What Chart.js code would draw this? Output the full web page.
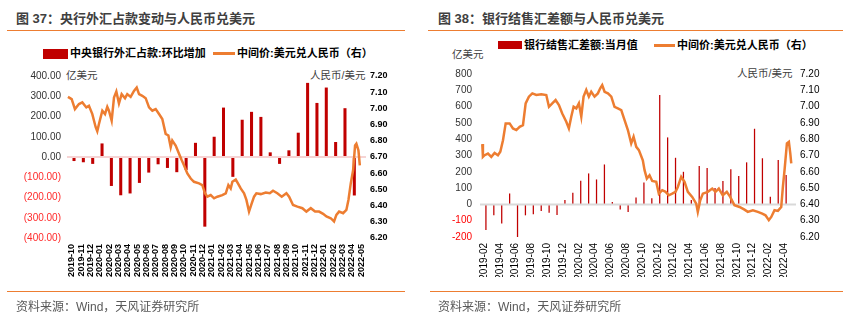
<!DOCTYPE html>
<html>
<head>
<meta charset="utf-8">
<script src="https://cdn.jsdelivr.net/npm/chart.js@4.4.1/dist/chart.umd.min.js"></script>
<style>
body { margin:0; width:859px; height:326px; background:#fff; position:relative; overflow:hidden;
       font-family:"Liberation Sans","Noto Sans CJK SC",sans-serif; }
.t { position:absolute; white-space:nowrap; }
.title { font-size:13px; font-weight:bold; color:#404040; line-height:15px; }
.src { font-size:12px; color:#595959; line-height:16px; }
.leg { font-size:11px; font-weight:bold; color:#000; line-height:12px; }
.unit { font-size:10.5px; color:#404040; line-height:13px; }
.rule { position:absolute; height:1px; background:#ED7D31; }
.box { position:absolute; background:#C00000; }
.ln { position:absolute; height:3px; background:#ED7D31; }
canvas { position:absolute; top:0; }
</style>
</head>
<body>
<div class="t title" style="left:16px;top:11px">图 37：央行外汇占款变动与人民币兑美元</div>
<div class="t title" style="left:438px;top:11px">图 38：银行结售汇差额与人民币兑美元</div>
<div class="rule" style="left:7px;top:30px;width:398px"></div>
<div class="rule" style="left:428px;top:30px;width:415px"></div>

<div class="box" style="left:43px;top:49px;width:25px;height:10px"></div>
<div class="t leg" style="left:70px;top:47px">中央银行外汇占款:环比增加</div>
<div class="ln" style="left:213px;top:52px;width:22px"></div>
<div class="t leg" style="left:237px;top:47px">中间价:美元兑人民币（右）</div>

<div class="box" style="left:498px;top:41px;width:24px;height:8px"></div>
<div class="t leg" style="left:524px;top:39px">银行结售汇差额:当月值</div>
<div class="ln" style="left:654px;top:44px;width:21px"></div>
<div class="t leg" style="left:677px;top:39px">中间价:美元兑人民币（右）</div>

<div class="t unit" style="left:66px;top:69px">亿美元</div>
<div class="t unit" style="left:310px;top:69px">人民币/美元</div>
<div class="t unit" style="left:452px;top:48px">亿美元</div>
<div class="t unit" style="left:737px;top:67px">人民币/美元</div>

<canvas id="c1" width="430" height="326" style="left:0"></canvas>
<canvas id="c2" width="429" height="326" style="left:430px"></canvas>

<div class="rule" style="left:7px;top:291px;width:398px"></div>
<div class="rule" style="left:430px;top:291px;width:413px"></div>
<div class="t src" style="left:16px;top:299px">资料来源：Wind，天风证券研究所</div>
<div class="t src" style="left:438px;top:299px">资料来源：Wind，天风证券研究所</div>

<script>
// ---- 图37 data ----
const months1 = ['2019-10','2019-11','2019-12','2020-01','2020-02','2020-03','2020-04','2020-05',
  '2020-06','2020-07','2020-08','2020-09','2020-10','2020-11','2020-12','2021-01','2021-02',
  '2021-03','2021-04','2021-05','2021-06','2021-07','2021-08','2021-09','2021-10','2021-11',
  '2021-12','2022-01','2022-02','2022-03','2022-04','2022-05'];
const fxHolding = [-20, -26, -34, 67, -143, -189, -180, -128, -77, -36, -54, -75, -64, 70, -344, 100,
  244, -98, 184, 223, 198, 23, -34, 33, 120, 366, 267, 343, 74, 241, -190, null];
// CNY central parity, position in months from first category
const cny1Pos = [-0.40, 0.00, 0.35, 0.78, 1.14, 1.57, 1.85, 2.21, 2.57, 2.74, 2.92, 3.28, 3.57, 3.81,
  3.99, 4.28, 4.53, 4.78, 5.06, 5.35, 5.71, 5.95, 6.31, 6.67, 6.96, 7.21, 7.56, 7.92, 8.28, 8.63,
  8.99, 9.35, 9.70, 10.06, 10.35, 10.60, 10.77, 11.13, 11.49, 11.78, 12.02, 12.38, 12.74, 13.09,
  13.63, 13.98, 14.27, 14.52, 14.88, 15.24, 15.59, 16.12, 16.49, 16.77, 17.02, 17.20, 17.56, 17.84,
  18.09, 18.45, 18.70, 18.98, 19.27, 19.52, 19.77, 20.24, 20.77, 21.20, 21.55, 22.01, 22.48, 22.98,
  23.27, 23.69, 24.16, 24.69, 25.12, 25.59, 26.05, 26.48, 26.91, 27.26, 27.73, 28.08, 28.33, 28.62,
  29.05, 29.40, 29.62, 29.87, 30.12, 30.33, 30.47, 30.69, 30.84];
const cny1Val = [7.071, 7.057, 6.996, 7.027, 7.037, 7.006, 7.016, 6.965, 6.884, 6.859, 6.904, 6.986,
  6.965, 7.010, 6.986, 6.924, 7.067, 7.104, 7.031, 7.088, 7.063, 7.088, 7.071, 7.108, 7.129, 7.088,
  7.078, 7.063, 7.006, 6.986, 6.996, 6.965, 6.935, 6.843, 6.833, 6.761, 6.802, 6.771, 6.720, 6.680,
  6.649, 6.598, 6.567, 6.547, 6.537, 6.527, 6.476, 6.455, 6.465, 6.445, 6.455, 6.465, 6.476, 6.527,
  6.506, 6.547, 6.561, 6.533, 6.506, 6.476, 6.435, 6.363, 6.414, 6.455, 6.476, 6.471, 6.480, 6.476,
  6.492, 6.476, 6.455, 6.476, 6.455, 6.404, 6.394, 6.384, 6.363, 6.384, 6.363, 6.363, 6.349, 6.333,
  6.322, 6.302, 6.343, 6.363, 6.353, 6.373, 6.435, 6.537, 6.618, 6.771, 6.782, 6.741, 6.649];

// ---- 图38 data ----
const months2 = ['2019-02','2019-03','2019-04','2019-05','2019-06','2019-07','2019-08','2019-09',
  '2019-10','2019-11','2019-12','2020-01','2020-02','2020-03','2020-04','2020-05','2020-06',
  '2020-07','2020-08','2020-09','2020-10','2020-11','2020-12','2021-01','2021-02','2021-03',
  '2021-04','2021-05','2021-06','2021-07','2021-08','2021-09','2021-10','2021-11','2021-12',
  '2022-01','2022-02','2022-03','2022-04','2022-05'];
const fxSettle = [-157, -67, -117, 67, -200, -67, -61, -41, -51, -65, 27, 72, 145, 190, 153, 245, 14,
  -31, -47, 43, 135, 37, 671, 411, 286, 200, 27, 235, 223, 100, 143, 215, 174, 258, 464, 283, 47,
  272, 180, null];
const cny2Pos = [-0.21, -0.13, 0.09, 0.51, 0.93, 1.35, 1.77, 2.07, 2.41, 2.75, 3.25, 3.67, 4.10, 4.52,
  4.94, 5.28, 5.69, 6.12, 6.63, 7.26, 7.89, 8.23, 8.65, 9.07, 9.49, 9.91, 10.42, 10.75, 11.05, 11.35,
  11.69, 12.02, 12.32, 12.61, 12.95, 13.28, 13.58, 14.00, 14.42, 14.72, 14.97, 15.27, 15.69, 16.12,
  16.53, 16.95, 17.38, 17.80, 18.22, 18.64, 18.94, 19.28, 19.61, 20.11, 20.33, 20.62, 20.96, 21.30,
  21.81, 22.14, 22.57, 22.99, 23.40, 23.83, 24.25, 24.54, 24.97, 25.39, 25.81, 26.36, 26.87, 27.07,
  27.38, 27.71, 28.34, 28.90, 29.31, 29.73, 30.23, 30.74, 31.17, 31.71, 32.35, 32.98, 33.40, 34.04,
  34.67, 35.23, 35.64, 36.06, 36.37, 36.78, 37.21, 37.63, 37.84, 38.05, 38.35, 38.60, 38.78, 38.90];
const cny2Val = [6.770, 6.692, 6.702, 6.712, 6.692, 6.716, 6.702, 6.723, 6.794, 6.897, 6.897, 6.866,
  6.856, 6.876, 6.886, 7.020, 7.061, 7.081, 7.071, 7.075, 7.071, 6.999, 7.020, 7.040, 7.009, 6.958,
  6.907, 6.866, 6.938, 6.999, 6.989, 7.020, 6.938, 7.061, 7.102, 7.061, 7.091, 7.061, 7.081, 7.112,
  7.132, 7.091, 7.081, 7.061, 6.999, 6.989, 6.979, 6.917, 6.856, 6.774, 6.815, 6.753, 6.733, 6.671,
  6.610, 6.559, 6.579, 6.544, 6.538, 6.466, 6.487, 6.477, 6.456, 6.466, 6.477, 6.507, 6.569, 6.538,
  6.477, 6.446, 6.405, 6.354, 6.425, 6.466, 6.477, 6.497, 6.477, 6.497, 6.456, 6.477, 6.446, 6.395,
  6.384, 6.368, 6.354, 6.364, 6.354, 6.343, 6.333, 6.303, 6.323, 6.364, 6.360, 6.384, 6.507, 6.610,
  6.774, 6.784, 6.712, 6.651];

const RED = '#C00000', ORANGE = '#ED7D31';
const FONT = '"Liberation Sans", Arial, sans-serif';

// line over bars at 0, like the original
const zeroLine = {
  id: 'zeroLine',
  afterDatasetDraw(chart, args, opts) {
    if (args.meta.type !== 'bar') return;
    const y = chart.scales.y.getPixelForValue(0);
    const ctx = chart.ctx;
    ctx.save();
    ctx.strokeStyle = opts.color;
    ctx.lineWidth = 2;
    ctx.beginPath();
    ctx.moveTo(chart.chartArea.left, y);
    ctx.lineTo(chart.chartArea.right, y);
    ctx.stroke();
    ctx.restore();
  }
};

function fixWidth(w) { return function (scale) { scale.width = w; }; }
function fixHeight(h) { return function (scale) { scale.height = h; }; }

function makeChart(id, o) {
  const points = o.pos.map((p, i) => ({ x: p, y: o.val[i] }));
  return new Chart(document.getElementById(id), {
    type: 'bar',
    data: {
      labels: o.labels,
      datasets: [
        { type: 'line', data: points, xAxisID: 'x2', yAxisID: 'y2', borderColor: ORANGE,
          borderWidth: 2.5, pointRadius: 0, tension: 0, order: 0 },
        { type: 'bar', data: o.bars, xAxisID: 'x', yAxisID: 'y', backgroundColor: RED,
          barPercentage: o.barPct, categoryPercentage: 1, order: 1 }
      ]
    },
    options: {
      responsive: false,
      animation: false,
      layout: { padding: o.padding },
      plugins: { legend: { display: false }, tooltip: { enabled: false },
                 zeroLine: { color: o.zeroColor } },
      scales: {
        x: {
          grid: { display: false, drawTicks: false }, border: { display: false },
          afterFit: fixHeight(40),
          ticks: { autoSkip: false, maxRotation: 90, minRotation: 90, padding: o.xPad,
                   color: '#000', font: { family: FONT, size: o.xSize, weight: o.xWeight },
                   callback: function (v, i) { return i % o.every === 0 ? this.getLabelForValue(v) : ''; } }
        },
        x2: { type: 'linear', display: false, offset: false, grid: { offset: false },
              min: -0.5, max: o.labels.length - 0.5 },
        y: {
          min: o.yMin, max: o.yMax, afterFit: fixWidth(o.yWidth),
          grid: { display: false, drawTicks: false }, border: { display: false },
          ticks: { stepSize: 100, padding: o.yPad, font: { family: FONT, size: 10 },
                   color: (c) => c.tick.value < 0 ? o.negColor : '#333',
                   callback: o.yFmt }
        },
        y2: {
          position: 'right', min: 6.2, max: 7.2, afterFit: fixWidth(34),
          grid: { display: false, drawTicks: false }, border: { display: false },
          ticks: { stepSize: 0.1, padding: 4, color: '#000',
                   font: { family: FONT, size: o.rSize, weight: o.rWeight },
                   callback: (v) => v.toFixed(2) }
        }
      }
    },
    plugins: [zeroLine]
  });
}

makeChart('c1', {
  labels: months1, bars: fxHolding, pos: cny1Pos, val: cny1Val,
  barPct: 0.65, padding: { top: 76, left: 0, right: 30, bottom: 48 },
  yMin: -400, yMax: 400, yWidth: 67, yPad: 6, negColor: '#ff2a2a',
  yFmt: (v) => v < 0 ? '(' + Math.abs(v).toFixed(2) + ')' : v.toFixed(2),
  xSize: 9, xWeight: 'bold', xPad: 6, every: 1,
  rSize: 9, rWeight: 'bold', zeroColor: '#f6d4d4'
});

makeChart('c2', {
  labels: months2, bars: fxSettle, pos: cny2Pos, val: cny2Val,
  barPct: 0.32, padding: { top: 74, left: 0, right: 29, bottom: 49 },
  yMin: -200, yMax: 800, yWidth: 50, yPad: 8, negColor: '#ff0000',
  yFmt: (v) => String(v),
  xSize: 10, xWeight: 'normal', xPad: 6, every: 2,
  rSize: 10, rWeight: 'normal', zeroColor: '#d9d9d9'
});
</script>
</body>
</html>
